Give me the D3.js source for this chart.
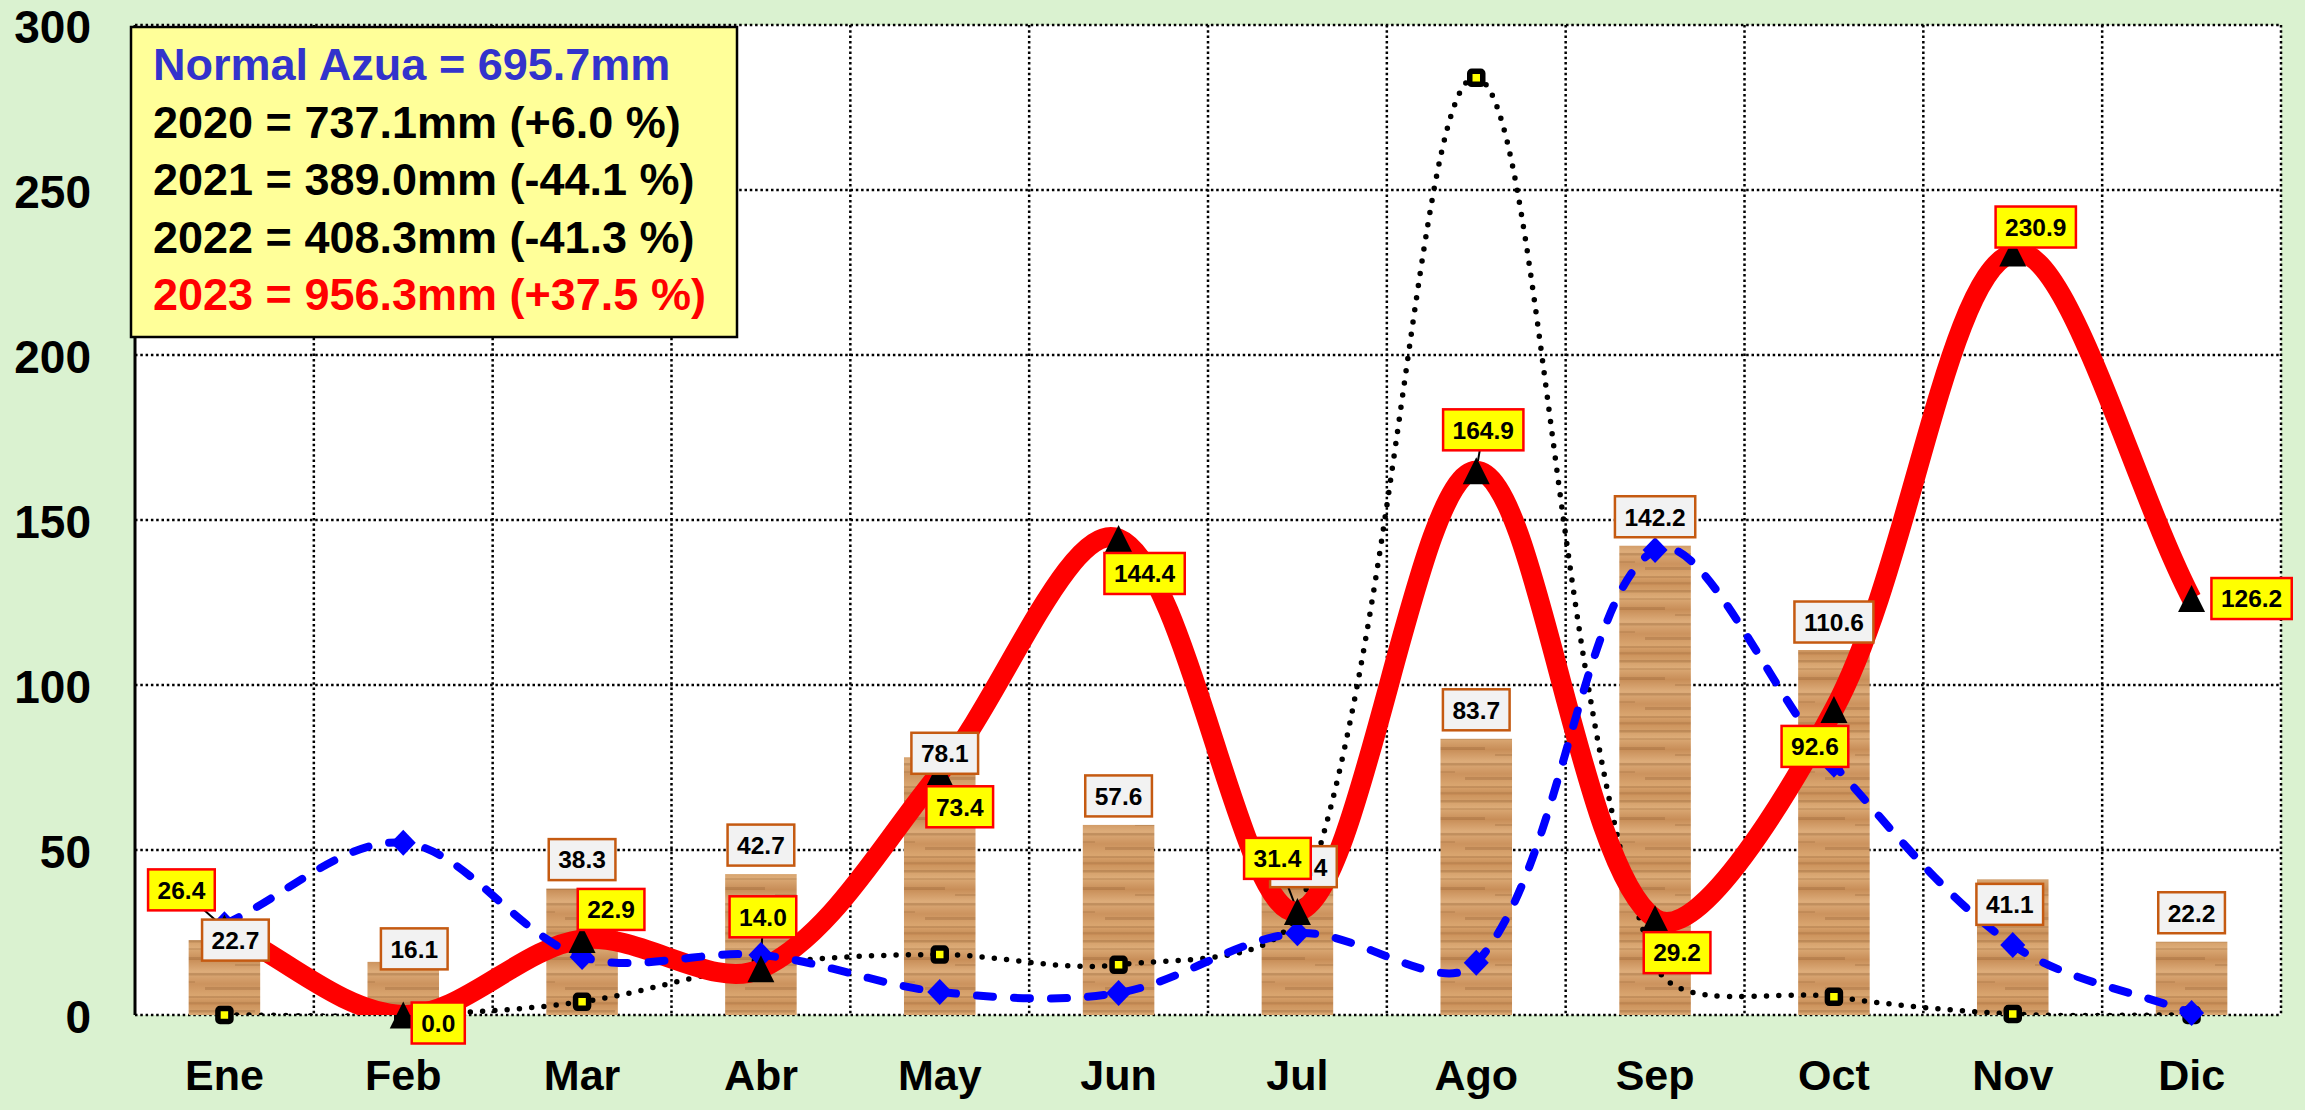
<!DOCTYPE html>
<html>
<head>
<meta charset="utf-8">
<script src="https://cdn.jsdelivr.net/npm/d3@7"></script>
<style>
  body { margin: 0; background: #daf2d0; }
  svg text { font-family: "Liberation Sans", Arial, sans-serif; font-weight: bold; }
</style>
</head>
<body>
<div id="chart"></div>
<script>
// ---- data ----
const months = ["Ene", "Feb", "Mar", "Abr", "May", "Jun", "Jul", "Ago", "Sep", "Oct", "Nov", "Dic"];
const normalAzua = [22.7, 16.1, 38.3, 42.7, 78.1, 57.6, 40.4, 83.7, 142.2, 110.6, 41.1, 22.2];
const rain2021 = [0.0, 0.0, 4.0, 15.2, 18.3, 15.2, 31.0, 284.0, 15.5, 5.5, 0.3, 0.0];
const rain2022 = [27.5, 52.2, 17.6, 18.2, 7.0, 6.7, 24.8, 15.8, 140.9, 75.8, 21.2, 0.6];
const rain2023 = [26.4, 0.0, 22.9, 14.0, 73.4, 144.4, 31.4, 164.9, 29.2, 92.6, 230.9, 126.2];
const yTicks = [0, 50, 100, 150, 200, 250, 300];
const legendText = [
  "Normal Azua = 695.7mm",
  "2020 = 737.1mm (+6.0 %)",
  "2021 = 389.0mm (-44.1 %)",
  "2022 = 408.3mm (-41.3 %)",
  "2023 = 956.3mm (+37.5 %)"
];

// ---- layout (label nudges, in px from the point) ----
const legendColor = ["#3333cc", "#000", "#000", "#000", "#ff0000"];
const redLabelShift = [[-43,-38],[35,8],[29,-30],[2,-52],[20,34],[26,35],[-20,-53],[7,-41],[22,34],[-19,37],[23,-26],[60,0]];
const redLeader = [1,0,0,1,1,1,1,1,1,1,0,0];
const barLabelShift = [[11,0],[11,-13],[0,-29],[0,-29],[5,-4],[0,-29],[6,-15],[0,-29],[0,-29],[0,-28],[-3,25],[0,-29]];

const W = 2305, H = 1110;
const margin = {top: 25, right: 24, bottom: 95, left: 135},
      width = W - margin.left - margin.right,
      height = H - margin.top - margin.bottom;

// smoothing like the spreadsheet's "smoothed line" (bezier, tangents scaled by segment length)
function SmoothCurve(context) { this._context = context; }
SmoothCurve.prototype = {
  areaStart() {}, areaEnd() {},
  lineStart() { this._pts = []; },
  point(px, py) { this._pts.push([+px, +py]); },
  lineEnd() {
    const p = this._pts, n = p.length, c = this._context;
    if (!n) return;
    const dist = (a, b) => Math.hypot(b[0] - a[0], b[1] - a[1]);
    c.moveTo(p[0][0], p[0][1]);
    for (let i = 0; i < n - 1; i++) {
      const p0 = p[Math.max(i - 1, 0)], p1 = p[i], p2 = p[i + 1], p3 = p[Math.min(i + 2, n - 1)];
      const d01 = dist(p0, p1), d12 = dist(p1, p2), d23 = dist(p2, p3);
      const f1 = d01 + d12 > 0 ? d12 / (3 * (d01 + d12)) : 0;
      const f2 = d12 + d23 > 0 ? d12 / (3 * (d12 + d23)) : 0;
      c.bezierCurveTo(
        p1[0] + (p2[0] - p0[0]) * f1, p1[1] + (p2[1] - p0[1]) * f1,
        p2[0] - (p3[0] - p1[0]) * f2, p2[1] - (p3[1] - p1[1]) * f2,
        p2[0], p2[1]);
    }
  }
};
const curveSmooth = ctx => new SmoothCurve(ctx);

const root = d3.select("#chart").append("svg")
    .attr("width", W).attr("height", H);

root.append("rect").attr("width", W).attr("height", H).attr("fill", "#daf2d0");

// wood texture for the bars
const defs = root.append("defs");
const grad = defs.append("linearGradient").attr("id", "woodGrad")
    .attr("x1", 0).attr("y1", 0).attr("x2", 0).attr("y2", 1);
[["0%","#cd945d"],["18%","#dcab77"],["35%","#c88e58"],["52%","#ddac7a"],["70%","#cc935e"],["86%","#d9a56f"],["100%","#c68b55"]]
  .forEach(s => grad.append("stop").attr("offset", s[0]).attr("stop-color", s[1]));
const pat = defs.append("pattern").attr("id", "wood")
    .attr("patternUnits", "userSpaceOnUse").attr("width", 180).attr("height", 70);
pat.append("rect").attr("width", 180).attr("height", 70).attr("fill", "url(#woodGrad)");
[[5,2.5,0,120,.3],[13,2,40,180,.2],[22,3,0,90,.28],[29,2,100,180,.25],[38,2.5,20,150,.3],
 [46,2,0,60,.2],[52,3,70,180,.28],[61,2,10,130,.25],[67,2,0,180,.18]]
  .forEach(g => pat.append("rect").attr("x", g[2]).attr("y", g[0]).attr("width", g[3] - g[2])
      .attr("height", g[1]).attr("fill", "#8a5a2e").attr("opacity", g[4]));

const svg = root.append("g").attr("transform", `translate(${margin.left},${margin.top})`);

defs.append("clipPath").attr("id", "plotClip")
  .append("rect").attr("width", width).attr("height", height);

// scales
const x = d3.scaleBand().domain(months).range([0, width]);
const y = d3.scaleLinear().domain([0, 300]).range([height, 0]);
const cx = i => x(months[i]) + x.bandwidth() / 2;

// plot area
svg.append("rect").attr("width", width).attr("height", height).attr("fill", "#fff");

// gridlines (dotted)
svg.append("g").selectAll("line").data(yTicks).enter().append("line")
    .attr("x1", 0).attr("x2", width)
    .attr("y1", d => y(d)).attr("y2", d => y(d))
    .attr("stroke", "#000").attr("stroke-width", 2.5).attr("stroke-dasharray", "2.5,2.8");
svg.append("g").selectAll("line").data(months).enter().append("line")
    .attr("x1", d => x(d) + x.bandwidth()).attr("x2", d => x(d) + x.bandwidth())
    .attr("y1", 0).attr("y2", height)
    .attr("stroke", "#000").attr("stroke-width", 2.5).attr("stroke-dasharray", "2.5,2.8");
svg.append("line").attr("x1", 0).attr("x2", 0).attr("y1", 0).attr("y2", height)
    .attr("stroke", "#000").attr("stroke-width", 3);

// axes labels
const yAxis = svg.append("g")
    .call(d3.axisLeft(y).tickValues(yTicks).tickSize(0).tickPadding(44));
yAxis.select(".domain").remove();
yAxis.selectAll("text").attr("font-size", 46).attr("dy", "0.38em").attr("fill", "#000")
    .style("font-family", '"Liberation Sans", Arial, sans-serif').style("font-weight", "bold");

const xAxis = svg.append("g").attr("transform", `translate(0,${height})`)
    .call(d3.axisBottom(x).tickSize(0).tickPadding(44));
xAxis.select(".domain").remove();
xAxis.selectAll("text").attr("font-size", 43).attr("fill", "#000")
    .style("font-family", '"Liberation Sans", Arial, sans-serif').style("font-weight", "bold");

// bars: Normal Azua
const barW = x.bandwidth() * 0.4;
svg.append("g").selectAll("rect").data(normalAzua).enter().append("rect")
    .attr("x", (d, i) => cx(i) - barW / 2)
    .attr("y", d => y(d))
    .attr("width", barW)
    .attr("height", d => height - y(d))
    .attr("fill", "url(#wood)");

const lineGen = d3.line()
    .x((d, i) => cx(i))
    .y(d => y(d))
    .curve(curveSmooth);

// 2021: dotted line with square markers (sits under the 2023 line)
svg.append("g").attr("clip-path", "url(#plotClip)")
  .append("path").datum(rain2021)
    .attr("d", lineGen)
    .attr("fill", "none").attr("stroke", "#000").attr("stroke-width", 5.5)
    .attr("stroke-linecap", "round").attr("stroke-dasharray", "0,12.3");
svg.append("g").selectAll("rect").data(rain2021).enter().append("rect")
    .attr("x", (d, i) => cx(i) - 6.5)
    .attr("y", d => y(d) - 6.5)
    .attr("width", 13).attr("height", 13).attr("rx", 2)
    .attr("fill", "#ffff00").attr("stroke", "#000").attr("stroke-width", 5.5);

// leader lines for the 2023 labels
svg.append("g").selectAll("line").data(d3.range(months.length).filter(i => redLeader[i])).enter()
  .append("line")
    .attr("x1", i => cx(i) + redLabelShift[i][0])
    .attr("y1", i => y(rain2023[i]) + redLabelShift[i][1])
    .attr("x2", i => cx(i))
    .attr("y2", i => y(rain2023[i]))
    .attr("stroke", "#000").attr("stroke-width", 2);

// 2023: thick red line
svg.append("g").attr("clip-path", "url(#plotClip)")
  .append("path").datum(rain2023)
    .attr("d", lineGen)
    .attr("fill", "none").attr("stroke", "#ff0000").attr("stroke-width", 20)
    .attr("stroke-linejoin", "round");

// 2022: blue dashed line with diamonds
svg.append("g").attr("clip-path", "url(#plotClip)")
  .append("path").datum(rain2022)
    .attr("d", lineGen)
    .attr("fill", "none").attr("stroke", "#0000ff").attr("stroke-width", 8)
    .attr("stroke-linecap", "round").attr("stroke-dasharray", "16,21");
svg.append("g").selectAll("path").data(rain2022).enter().append("path")
    .attr("transform", (d, i) => `translate(${cx(i)},${y(d)})`)
    .attr("d", "M0,-13L12.5,0L0,13L-12.5,0Z")
    .attr("fill", "#0000ff");

// 2023 triangles
svg.append("g").selectAll("path").data(rain2023).enter().append("path")
    .attr("transform", (d, i) => `translate(${cx(i)},${y(d)})`)
    .attr("d", "M0,-13.5L13.5,13.5L-13.5,13.5Z")
    .attr("fill", "#000");

// data labels
function addLabels(values, shift, fill, stroke) {
  const g = svg.append("g").selectAll("g").data(values).enter().append("g")
      .attr("transform", (d, i) => `translate(${cx(i) + shift[i][0]},${y(d) + shift[i][1]})`);
  g.append("rect").attr("fill", fill).attr("stroke", stroke).attr("stroke-width", 2.5);
  g.append("text").attr("text-anchor", "middle").attr("dy", "0.36em")
      .attr("font-size", 24.5).attr("fill", "#000")
      .text(d => d.toFixed(1))
      .each(function () {
        const w = this.getComputedTextLength() + 19;
        d3.select(this.parentNode).select("rect")
          .attr("x", -w / 2).attr("y", -20.5).attr("width", w).attr("height", 41);
      });
}
addLabels(normalAzua, barLabelShift, "#f2f2f2", "#c55a11");
addLabels(rain2023, redLabelShift, "#ffff00", "#ff0000");

// legend box
const leg = root.append("g").attr("transform", "translate(131,27)");
leg.append("rect").attr("width", 606).attr("height", 310)
    .attr("fill", "#ffff99").attr("stroke", "#000").attr("stroke-width", 2.5);
leg.selectAll("text").data(legendText).enter().append("text")
    .attr("x", 22)
    .attr("y", (d, i) => 53 + i * 57.5)
    .attr("font-size", 45)
    .attr("fill", (d, i) => legendColor[i])
    .text(d => d);
</script>
</body>
</html>
